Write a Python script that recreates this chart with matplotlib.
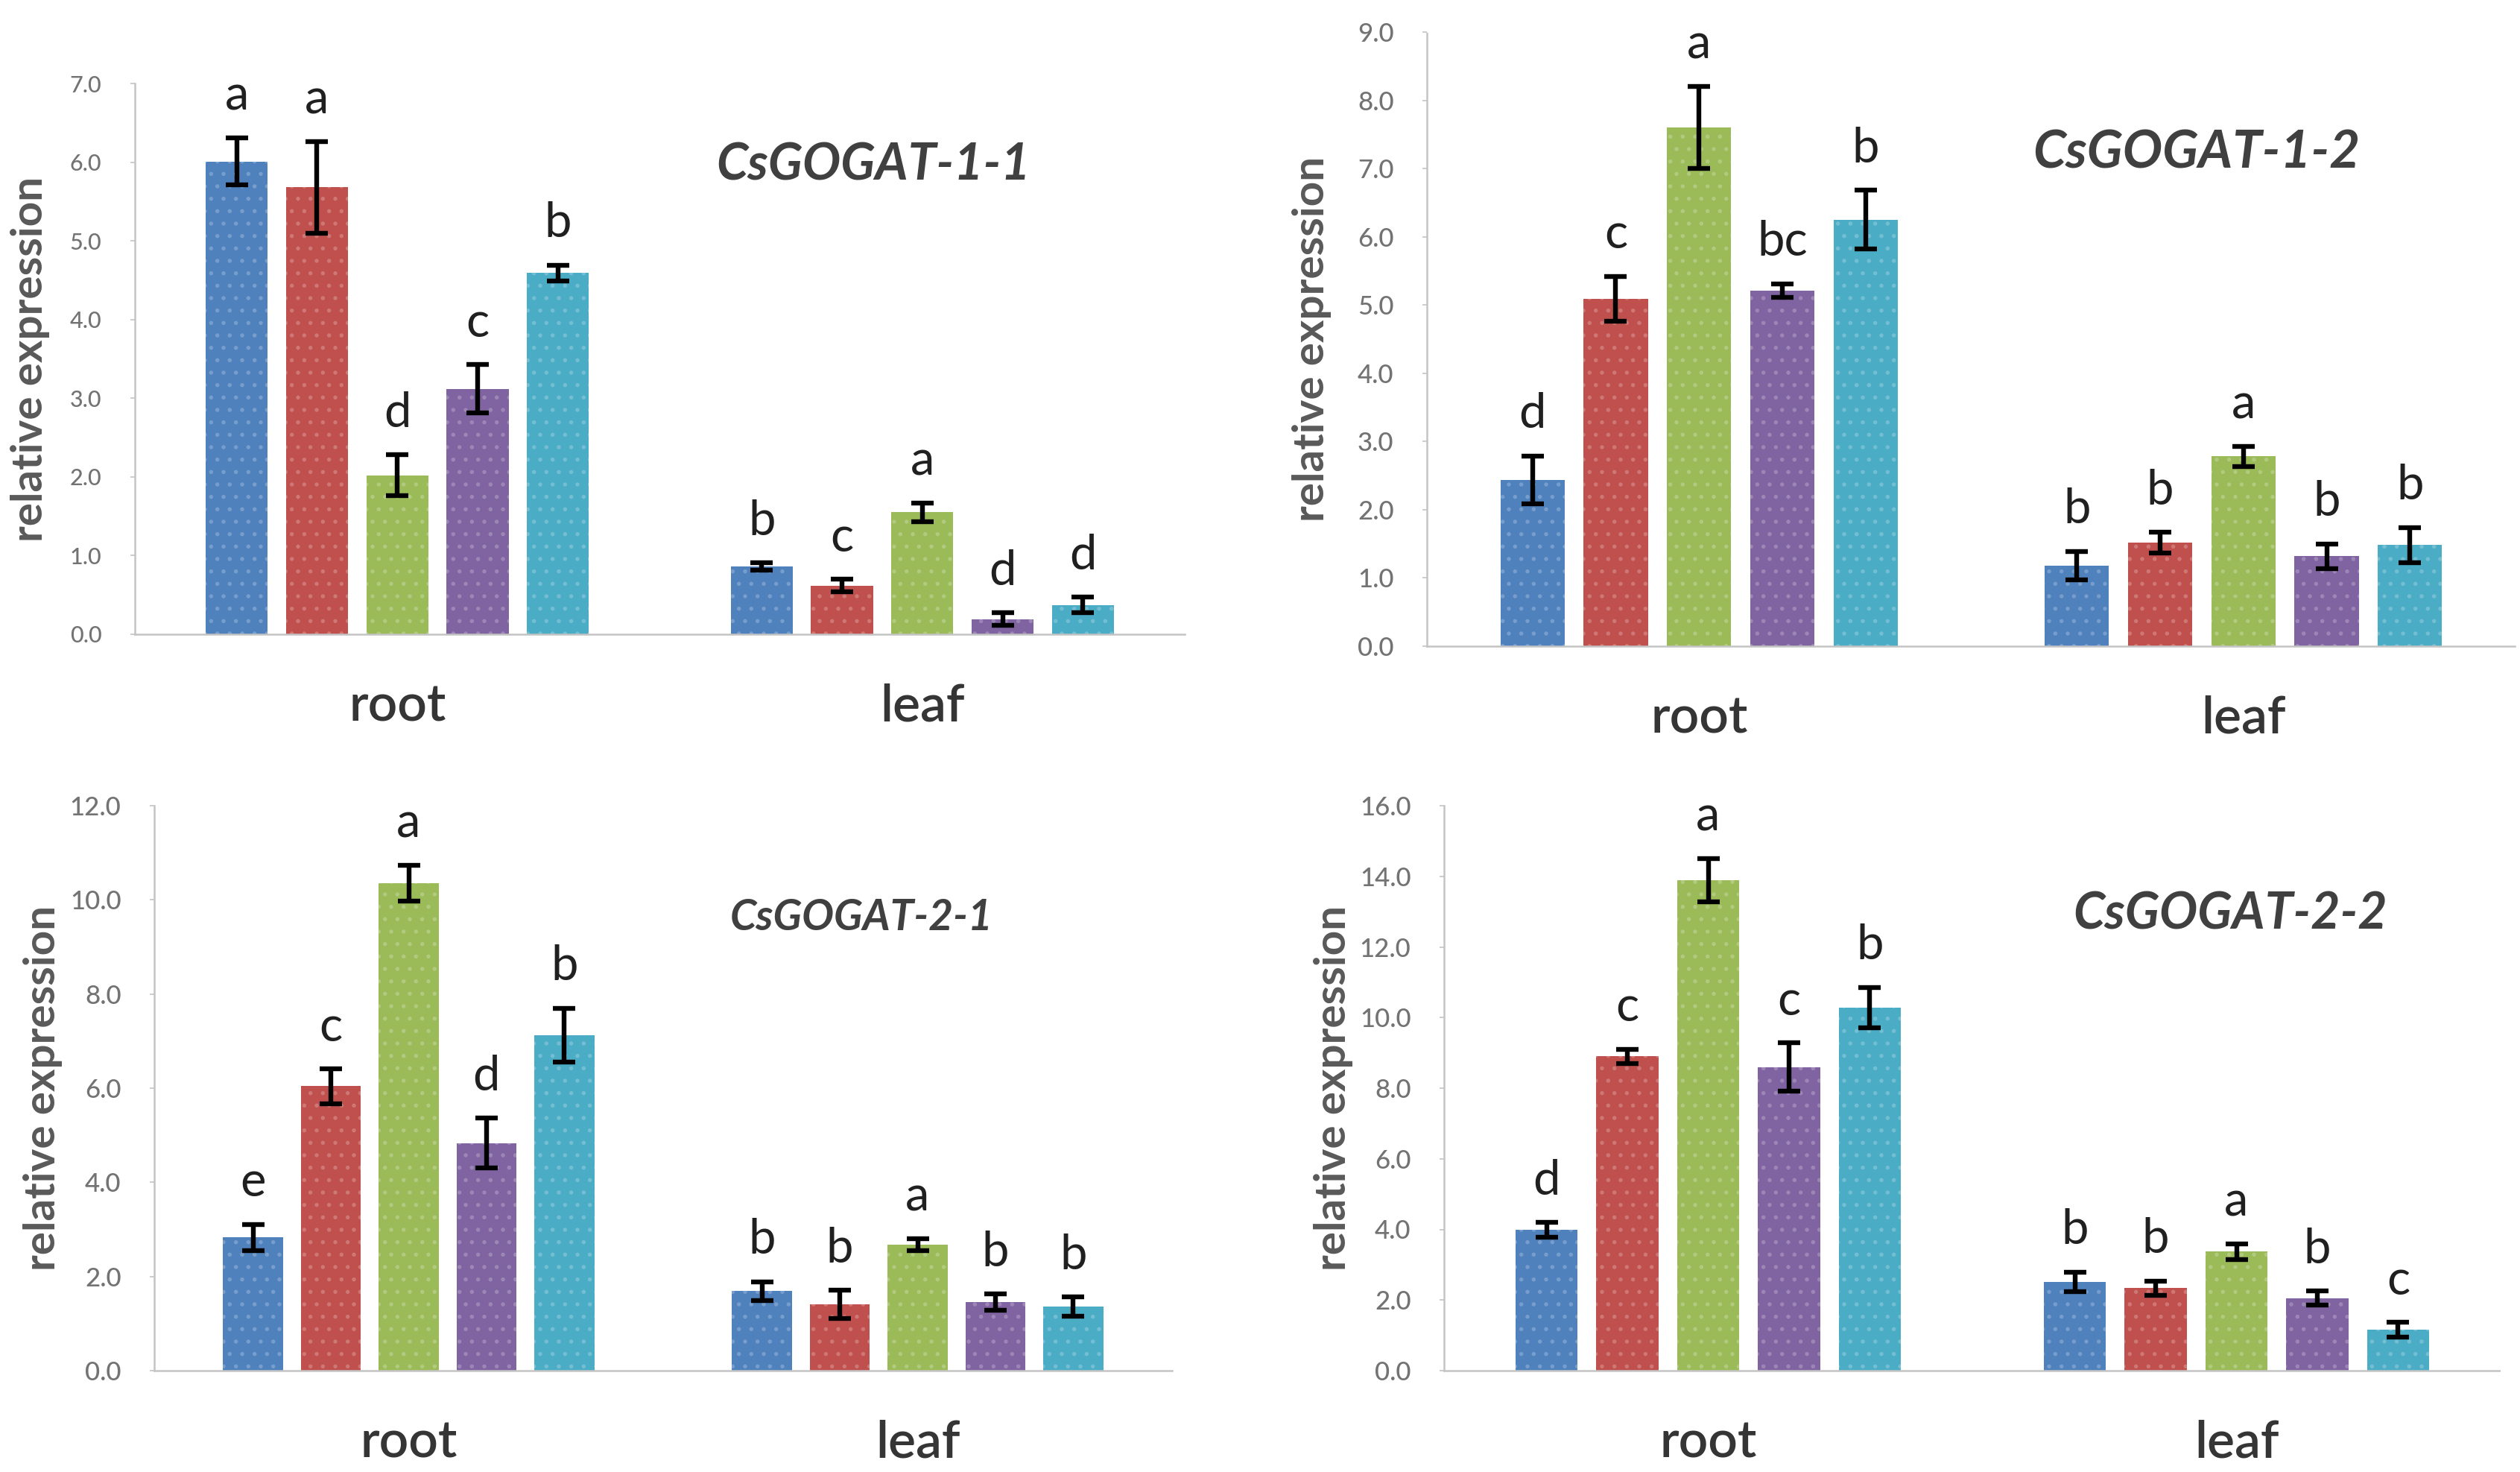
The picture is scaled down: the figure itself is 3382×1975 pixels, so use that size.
import matplotlib
matplotlib.use('Agg')
import matplotlib.pyplot as plt
import matplotlib.colors as mcolors
import numpy as np

W, H = 3382, 1975

categories = ['root', 'leaf']
colors = ['#4F81BD', '#C0504D', '#9BBB59', '#8064A2', '#4BACC6']

titles = ['CsGOGAT-1-1', 'CsGOGAT-1-2', 'CsGOGAT-2-1', 'CsGOGAT-2-2']

# ---- CsGOGAT-1-1 ----
g11_root = [6.01, 5.68, 2.02, 3.12, 4.59]
g11_root_err = [0.30, 0.58, 0.26, 0.31, 0.10]
g11_root_sig = ['a', 'a', 'd', 'c', 'b']
g11_leaf = [0.86, 0.62, 1.55, 0.19, 0.37]
g11_leaf_err = [0.05, 0.08, 0.12, 0.08, 0.10]
g11_leaf_sig = ['b', 'c', 'a', 'd', 'd']

# ---- CsGOGAT-1-2 ----
g12_root = [2.44, 5.09, 7.60, 5.21, 6.25]
g12_root_err = [0.35, 0.33, 0.60, 0.10, 0.43]
g12_root_sig = ['d', 'c', 'a', 'bc', 'b']
g12_leaf = [1.18, 1.52, 2.78, 1.32, 1.48]
g12_leaf_err = [0.21, 0.15, 0.15, 0.18, 0.26]
g12_leaf_sig = ['b', 'b', 'a', 'b', 'b']

# ---- CsGOGAT-2-1 ----
g21_root = [2.83, 6.04, 10.35, 4.83, 7.13]
g21_root_err = [0.28, 0.37, 0.38, 0.53, 0.57]
g21_root_sig = ['e', 'c', 'a', 'd', 'b']
g21_leaf = [1.69, 1.41, 2.68, 1.46, 1.36]
g21_leaf_err = [0.20, 0.30, 0.13, 0.17, 0.20]
g21_leaf_sig = ['b', 'b', 'a', 'b', 'b']

# ---- CsGOGAT-2-2 ----
g22_root = [3.99, 8.90, 13.89, 8.60, 10.28]
g22_root_err = [0.21, 0.20, 0.61, 0.68, 0.58]
g22_root_sig = ['d', 'c', 'a', 'c', 'b']
g22_leaf = [2.51, 2.34, 3.37, 2.05, 1.16]
g22_leaf_err = [0.28, 0.20, 0.22, 0.20, 0.21]
g22_leaf_sig = ['b', 'b', 'a', 'b', 'c']

ymax = [7, 9, 12, 16]
ystep = [1, 1, 2, 2]

panels = [
    (g11_root, g11_leaf, g11_root_err, g11_leaf_err, g11_root_sig, g11_leaf_sig),
    (g12_root, g12_leaf, g12_root_err, g12_leaf_err, g12_root_sig, g12_leaf_sig),
    (g21_root, g21_leaf, g21_root_err, g21_leaf_err, g21_root_sig, g21_leaf_sig),
    (g22_root, g22_leaf, g22_root_err, g22_leaf_err, g22_root_sig, g22_leaf_sig),
]

# layout in pixels: left, right, top, bottom of plot area
boxes = [
    (181, 1590, 112, 851),
    (1915, 3376, 43, 867),
    (207, 1573, 1081, 1839),
    (1938, 3356, 1081, 1839),
]
title_pos = [(1172, 222), (2948, 205), (1156, 1232), (2993, 1227)]
title_size = [49, 51, 41, 49]
ylabel_x = [41, 1761, 58, 1789]
tick_size = [22, 25, 25, 25]

FONT = ['Lato', 'DejaVu Sans']
plt.rcParams['hatch.linewidth'] = 1.5

fig = plt.figure(figsize=(W / 100, H / 100), dpi=100)
fig.patch.set_facecolor('white')

spacing = 0.153
bw = 0.118
offsets = (np.arange(5) - 2) * spacing


def tint(c, f):
    rgb = np.array(mcolors.to_rgb(c))
    return tuple(rgb + (1 - rgb) * f)


for i, (root, leaf, rerr, lerr, rsig, lsig) in enumerate(panels):
    l, r, t, b = boxes[i]
    ax = fig.add_axes([l / W, 1 - b / H, (r - l) / W, (b - t) / H])
    vals = np.array([root, leaf])      # shape (2, 5)
    errs = np.array([rerr, lerr])
    sigs = [rsig, lsig]
    xcat = np.arange(len(categories))
    for j in range(5):
        xs = xcat + offsets[j]
        ax.bar(xs, vals[:, j], width=bw, color=colors[j], edgecolor=tint(colors[j], 0.22),
               linewidth=0, hatch='.', zorder=2)
        ax.errorbar(xs, vals[:, j], yerr=errs[:, j], fmt='none', ecolor='black',
                    elinewidth=4.6, capsize=11, capthick=4.6, zorder=3)
        for k in range(len(categories)):
            ax.annotate(sigs[k][j], (xs[k], vals[k, j] + errs[k, j]),
                        xytext=(0, 19), textcoords='offset points',
                        ha='center', va='bottom', fontsize=47,
                        color='#202020', family=FONT)
    ax.set_xlim(-0.5, 1.5)
    ax.set_ylim(0, ymax[i])
    ax.set_yticks(np.arange(0, ymax[i] + 0.01, ystep[i]))
    ax.set_yticklabels([f'{v:.1f}' for v in np.arange(0, ymax[i] + 0.01, ystep[i])],
                       family=FONT, fontsize=tick_size[i], color='#737373',
                       fontweight='medium')
    ax.set_xticks([])
    for s in ['top', 'right']:
        ax.spines[s].set_visible(False)
    for s in ['left', 'bottom']:
        ax.spines[s].set_color('#c4c4c4')
        ax.spines[s].set_linewidth(1.8)
        ax.spines[s].set_linestyle((0, (1.5, 1)))
    ax.tick_params(axis='y', length=4, width=1.2, color='#c4c4c4', pad=28)
    for k, c in enumerate(categories):
        ax.annotate(c, (xcat[k], 0), xycoords=('data', 'axes fraction'),
                    xytext=(0, -70), textcoords='offset points',
                    ha='center', va='center', fontsize=50, color='#353535',
                    fontweight='semibold', family=FONT)
    tx, ty = title_pos[i]
    fig.text(tx / W, 1 - ty / H, titles[i], ha='center', va='center',
             fontsize=title_size[i], fontweight='bold', fontstyle='italic',
             color='#404040', family=FONT)
    fig.text(ylabel_x[i] / W, 1 - (t + b) / 2 / H, 'relative expression',
             rotation=90, ha='center', va='center', fontsize=42,
             fontweight='bold', color='#595959', family=FONT)

fig.savefig('out.png', dpi=100, facecolor='white')
